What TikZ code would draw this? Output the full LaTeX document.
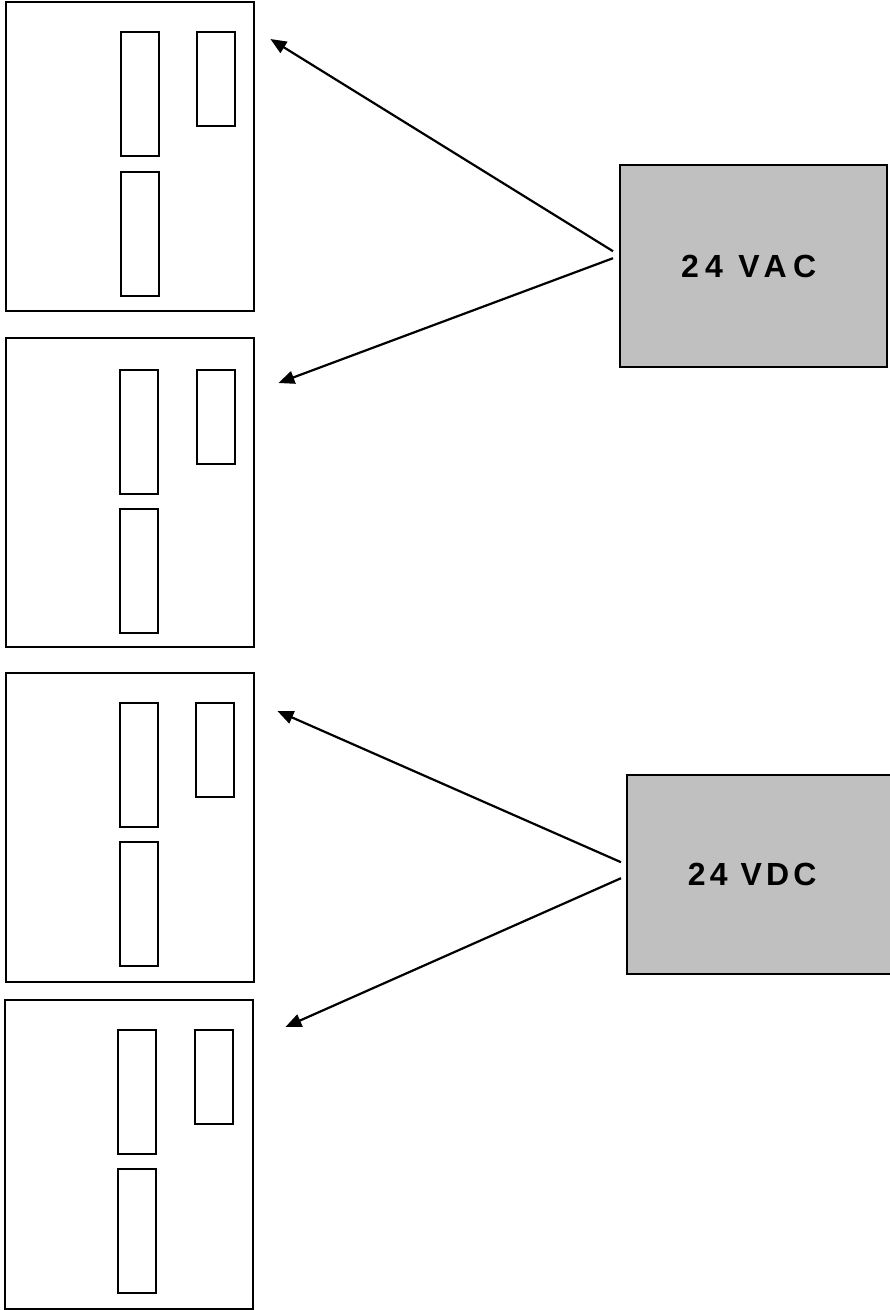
\documentclass[tikz,border=0pt]{standalone}
\usepackage{fontspec}
\usepackage{tikz}
\usetikzlibrary{arrows.meta,positioning}
\newfontfamily\acfont[LetterSpace=20]{Liberation Sans}
\newfontfamily\dcfont[LetterSpace=13]{Liberation Sans}
\definecolor{supplyc}{HTML}{C0C0C0}
\tikzset{
  panel/.style={draw, line width=2.4pt, anchor=north west, inner sep=0pt, minimum width=248pt, minimum height=309pt},
  slot/.style={draw, line width=2.2pt, anchor=north west, inner sep=0pt, minimum width=38pt, minimum height=124pt},
  shortslot/.style={slot, minimum height=94pt},
  supply/.style={draw, line width=2.4pt, fill=supplyc, anchor=north west, inner sep=0pt},
  supplytext/.style={font=\bfseries\fontsize{32}{34}\selectfont},
  arr/.style={-{Triangle[length=16pt,width=13pt]}, line width=2.2pt},
}
\begin{document}
\begin{tikzpicture}[x=1pt, y=-1pt]
  \useasboundingbox (0,0) rectangle (890,1310);
  % controller panels
  \node[panel] (p1) at (5,1) {};
  \node[panel] (p2) at (5,337) {};
  \node[panel] (p3) at (5,672) {};
  \node[panel] (p4) at (4,999) {};
  \node[slot, below right=30pt and 115pt of p1.north west] (p1a) {};
  \node[shortslot, below right=30pt and 191pt of p1.north west] (p1b) {};
  \node[slot, below right=170pt and 115pt of p1.north west] (p1c) {};
  \node[slot, below right=32pt and 114pt of p2.north west] (p2a) {};
  \node[shortslot, below right=32pt and 191pt of p2.north west] (p2b) {};
  \node[slot, below right=171pt and 114pt of p2.north west] (p2c) {};
  \node[slot, below right=30pt and 114pt of p3.north west] (p3a) {};
  \node[shortslot, below right=30pt and 190pt of p3.north west] (p3b) {};
  \node[slot, below right=169pt and 114pt of p3.north west] (p3c) {};
  \node[slot, below right=30pt and 113pt of p4.north west] (p4a) {};
  \node[shortslot, below right=30pt and 190pt of p4.north west] (p4b) {};
  \node[slot, below right=169pt and 113pt of p4.north west] (p4c) {};
  % power supplies
  \node[supply, minimum width=267pt, minimum height=202pt] (ac) at (619,164) {};
  \node[supplytext, xshift=-5pt] (actext) at (ac.center) {\acfont 24 VAC};
  \node[supply, minimum width=268pt, minimum height=199pt] (dc) at (626,774) {};
  \node[supplytext, xshift=-9pt] (dctext) at (dc.center) {\dcfont 24 VDC};
  % arrow ends
  \coordinate (ac1) at ([xshift=-6pt, yshift=15pt]ac.west);
  \coordinate (ac2) at ([xshift=-6pt, yshift=8pt]ac.west);
  \coordinate (dc1) at ([xshift=-5pt, yshift=12.5pt]dc.west);
  \coordinate (dc2) at ([xshift=-5pt, yshift=-3.5pt]dc.west);
  \coordinate (in1) at ([xshift=15pt, yshift=-38pt]p1.north east);
  \coordinate (in2) at ([xshift=23pt, yshift=-46pt]p2.north east);
  \coordinate (in3) at ([xshift=22pt, yshift=-39pt]p3.north east);
  \coordinate (in4) at ([xshift=31pt, yshift=-28pt]p4.north east);
  \draw[arr] (ac1) -- (in1); \draw[arr] (ac2) -- (in2);
  \draw[arr] (dc1) -- (in3); \draw[arr] (dc2) -- (in4);
\end{tikzpicture}
\end{document}
